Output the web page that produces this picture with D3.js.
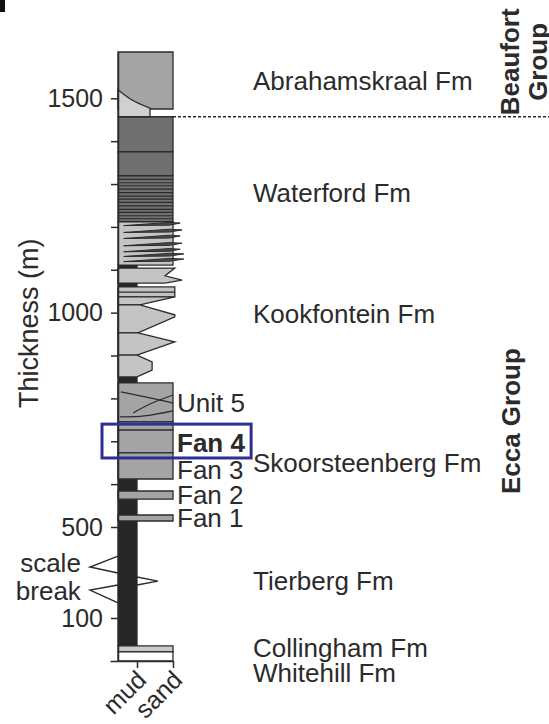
<!DOCTYPE html>
<html>
<head>
<meta charset="utf-8">
<script src="https://cdn.jsdelivr.net/npm/d3@7"></script>
<style>
body { margin: 0; background: #fff; }
text { font-family: "Liberation Sans", Arial, Helvetica, sans-serif; fill: #2b2b2b; }
</style>
</head>
<body>
<svg id="chart" width="549" height="724"></svg>
<script>
'use strict'

// thickness axis (m)
const tickValues = [100, 500, 600, 700, 800, 900, 1000, 1100, 1200, 1300, 1400, 1500]
const tickLabels = [100, 500, 1000, 1500]
// grain size axis
const grainTicks = [1, 2]
const grainNames = ['mud', 'sand']

// beds as [top (m), base (m), grain at right edge, facies]
const rectBeds = [
	[1608, 1475, 2, 'mid'], // Abrahamskraal
	[1457, 1375, 2, 'dark'], // Waterford
	[1375, 1319, 2, 'dark'],
	[1319, 1212, 2, 'dark'],
	[1212, 1111, 2, 'light'], // interfingering base of Waterford
	[1060, 1037, 2.05, 'light'],
	[836, 745, 2, 'mid'], // Unit 5
	[745, 726, 2, 'mid'],
	[726, 673, 2, 'mid'], // Fan 4
	[673, 612, 2, 'mid'], // Fan 3
	[584, 565, 2, 'mid'], // Fan 2
	[528, 514, 2, 'mid'], // Fan 1
	[35, 21, 2, 'pale'], // Collingham
	[21, 0, 2, 'white'] // Whitehill
]
const mudColumn = [1111, 35]

// Abrahamskraal lower wedge, [m, grain]
const wedgeCurve = [[1520, 0], [1496, 0.74], [1477, 1.36]]
const wedgeBase = 1457

// Waterford thin beds (m)
const waterfordBands = [1311, 1303, 1296, 1288, 1280, 1272, 1265, 1257, 1249, 1241, 1234, 1226, 1219]

// dark tongues: [tip level (m), tip grain]
const tongues = [[1209, 2.2], [1193, 2.25], [1179, 2.2], [1162, 2.25], [1148, 2.2], [1137, 2.3], [1125, 2.3]]

// Kookfontein beds, right edge profiles [m, grain]
const kookBeds = [
	[[1104, 2.05], [1086, 1.78], [1076, 2.25], [1069, 1.78]],
	[[1037, 2.05], [1018, 1.08]],
	[[1018, 1.08], [995, 2.05], [990, 2.05], [953, 1.03]],
	[[953, 1.03], [932, 2.05], [901, 1.0]],
	[[901, 1.0], [885, 1.42], [866, 1.42], [850, 1.0]]
]
const kookLines = [1048]

// Unit 5 internal surfaces [m, grain]
const unit5Lines = [
	[[815, 0.15], [801, 1.36], [789, 2]],
	[[766, 0.8], [787, 1.36], [808, 2]],
	[[757, 0.1], [759, 1.2], [771, 2]]
]

// scale break marks [m, grain]
const breakMarks = [
	[[372, 0], [324, -1.47], [298, 0]],
	[[245, 0], [223, -1.47], [166, 0]],
	[[280, 1], [262, 1.58], [245, 1]]
]
const breakLabels = ['scale', 'break']
const breakLabelLevels = [302, 179]

const formations = ['Abrahamskraal Fm', 'Waterford Fm', 'Kookfontein Fm', 'Skoorsteenberg Fm', 'Tierberg Fm', 'Collingham Fm', 'Whitehill Fm']
const formationLevels = [1520, 1258, 976, 628, 223, 9, -49]
const units = ['Unit 5', 'Fan 4', 'Fan 3', 'Fan 2', 'Fan 1']
const unitLevels = [768, 675, 612, 554, 498]
const highlight = 'Fan 4'
const highlightBox = [740, 661, -0.84, 4.17] // top, base (m), left, right (grain)
const groupBoundary = 1457

const width = 549
const edge = '#2b2b2b'
const fills = { mid: '#a4a4a4', dark: '#707070', light: '#c4c4c4', pale: '#c9c9c9', wedge: '#d0d0d0', mud: '#262626', white: '#ffffff', tongue: '#4a4a4a' }

const svg = d3.select('#chart')

// y scale broken below 500 m
const y = d3.scaleLinear().domain([0, 100, 500, 1608]).range([661, 618, 527, 52])
const x = d3.scaleLinear().domain([-0.42, 0, 1, 2]).range([110, 118, 137, 173])

const line = d3.line()
const pt = (p) => [x(p[1]), y(p[0])]

function bedPath (profile) {
	const top = profile[0][0]
	const base = profile[profile.length - 1][0]
	const pts = [[x(0), y(top)]].concat(profile.map(pt), [[x(0), y(base)]])
	return line(pts) + 'Z'
}

const col = svg.append('g')

// mud background
col.append('rect')
	.attr('x', x(0)).attr('y', y(mudColumn[0]))
	.attr('width', x(1) - x(0)).attr('height', y(mudColumn[1]) - y(mudColumn[0]))
	.attr('fill', fills.mud).attr('stroke', edge).attr('stroke-width', 1.3)

col.selectAll('path.bed')
	.data(rectBeds)
	.enter().append('path')
	.attr('class', 'bed')
	.attr('d', (d) => bedPath([[d[0], d[2]], [d[1], d[2]]]))
	.attr('fill', (d) => fills[d[3]])
	.attr('stroke', edge).attr('stroke-width', 1.3)

// Abrahamskraal wedge
const wedgeTop = d3.line().curve(d3.curveCatmullRom)(wedgeCurve.map(pt))
const last = wedgeCurve[wedgeCurve.length - 1]
col.append('path')
	.attr('d', wedgeTop + 'L' + x(last[1]) + ',' + y(wedgeBase) + 'L' + x(0) + ',' + y(wedgeBase) + 'Z')
	.attr('fill', fills.wedge).attr('stroke', edge).attr('stroke-width', 1.3)

// Waterford thin beds
col.selectAll('line.band')
	.data(waterfordBands)
	.enter().append('line')
	.attr('x1', x(0)).attr('x2', x(2))
	.attr('y1', (d) => y(d)).attr('y2', (d) => y(d))
	.attr('stroke', edge).attr('stroke-width', 1.2)

// tongues
col.selectAll('path.tongue')
	.data(tongues)
	.enter().append('path')
	.attr('d', (d) => line([[x(0.3), y(d[0] - 6)], [x(1.9), y(d[0] + 1.5)], [x(d[1]), y(d[0])], [x(1.9), y(d[0] - 5)]]) + 'Z')
	.attr('fill', fills.tongue).attr('stroke', edge).attr('stroke-width', 1)

// Kookfontein beds
col.selectAll('path.kook')
	.data(kookBeds)
	.enter().append('path')
	.attr('d', bedPath)
	.attr('fill', fills.light)
	.attr('stroke', edge).attr('stroke-width', 1.3)

col.selectAll('line.kook')
	.data(kookLines)
	.enter().append('line')
	.attr('x1', x(0)).attr('x2', x(2.05))
	.attr('y1', (d) => y(d)).attr('y2', (d) => y(d))
	.attr('stroke', edge).attr('stroke-width', 1.2)

// Unit 5 surfaces
col.selectAll('path.u5')
	.data(unit5Lines)
	.enter().append('path')
	.attr('d', (d) => d3.line().curve(d3.curveNatural)(d.map(pt)))
	.attr('fill', 'none').attr('stroke', edge).attr('stroke-width', 1.2)

// scale break
col.selectAll('path.brk')
	.data(breakMarks)
	.enter().append('path')
	.attr('d', (d) => line(d.map(pt)))
	.attr('fill', 'none').attr('stroke', edge).attr('stroke-width', 1.4)

svg.selectAll('text.brk')
	.data(breakLabels)
	.enter().append('text')
	.attr('x', x(-1.95)).attr('y', (d, i) => y(breakLabelLevels[i]))
	.attr('text-anchor', 'end')
	.style('font-size', '26px')
	.text((d) => d)

// Beaufort / Ecca boundary
svg.append('line')
	.attr('x1', x(2)).attr('x2', width)
	.attr('y1', y(groupBoundary)).attr('y2', y(groupBoundary))
	.attr('stroke', edge).attr('stroke-width', 1.5).attr('stroke-dasharray', '3,2')

// axes
const yAxis = svg.append('g')
	.attr('transform', 'translate(' + x(0) + ',0)')
	.call(d3.axisLeft(y).tickValues(tickValues)
		.tickFormat((d) => tickLabels.includes(d) ? d : '')
		.tickSize(7).tickPadding(8).tickSizeOuter(0))
yAxis.selectAll('text').style('font-size', '25px').attr('fill', '#2b2b2b')
yAxis.selectAll('line, path').attr('stroke', edge).attr('stroke-width', 1.5)

const xAxis = svg.append('g')
	.attr('transform', 'translate(0,' + y(0) + ')')
	.call(d3.axisBottom(x).tickValues(grainTicks)
		.tickFormat((d, i) => grainNames[i])
		.tickSize(7).tickSizeOuter(0))
xAxis.selectAll('line, path').attr('stroke', edge).attr('stroke-width', 1.5)
xAxis.selectAll('text')
	.style('font-size', '25px').attr('fill', '#2b2b2b')
	.attr('text-anchor', 'end')
	.attr('transform', 'translate(-9,1) rotate(-45)')
	.attr('dy', '0.7em')

svg.append('text')
	.attr('transform', 'translate(38,' + y(975) + ') rotate(-90)')
	.attr('text-anchor', 'middle')
	.style('font-size', '27px')
	.text('Thickness (m)')

// formation labels
svg.selectAll('text.fm')
	.data(formations)
	.enter().append('text')
	.attr('x', 253).attr('y', (d, i) => y(formationLevels[i]))
	.style('font-size', '26px')
	.text((d) => d)

svg.selectAll('text.unit')
	.data(units)
	.enter().append('text')
	.attr('x', 177).attr('y', (d, i) => y(unitLevels[i]))
	.style('font-size', '26px')
	.style('font-weight', (d) => d === highlight ? 'bold' : 'normal')
	.text((d) => d)

svg.append('rect')
	.attr('x', x(highlightBox[2])).attr('y', y(highlightBox[0]))
	.attr('width', x(highlightBox[3]) - x(highlightBox[2]))
	.attr('height', y(highlightBox[1]) - y(highlightBox[0]))
	.attr('fill', 'none').attr('stroke', '#2e3091').attr('stroke-width', 3)

// groups
const groupText = (t, px, level) => svg.append('text')
	.attr('transform', 'translate(' + px + ',' + y(level) + ') rotate(-90)')
	.attr('text-anchor', 'middle')
	.style('font-size', '26px').style('font-weight', 'bold')
	.text(t)
groupText('Beaufort', 519, 1585)
groupText('Group', 547, 1585)
groupText('Ecca Group', 520, 747)

// panel letter fragment
svg.append('rect').attr('x', 0).attr('y', 0).attr('width', 5).attr('height', 12).attr('fill', '#111')
</script>
</body>
</html>
